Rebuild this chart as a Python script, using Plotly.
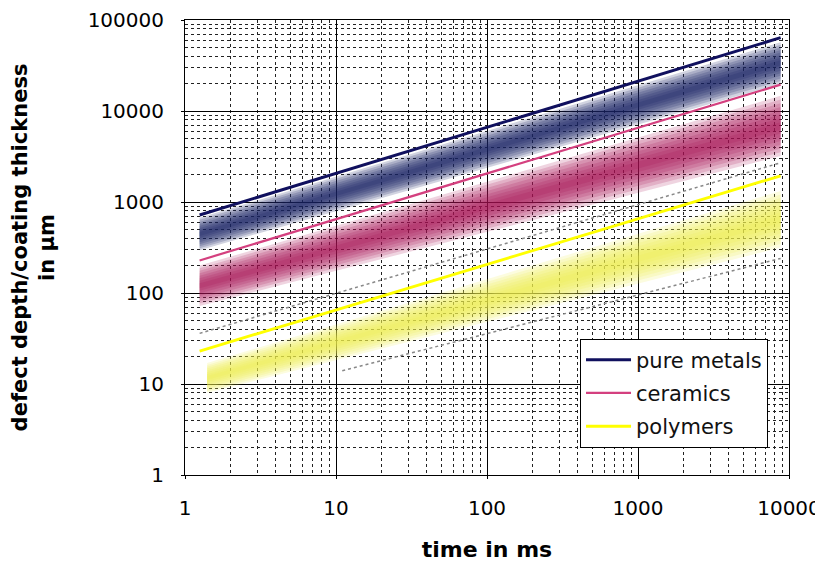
import plotly.graph_objects as go

# ---- data ----
x_span = [1.25, 8800]                     # time in ms, start/end of each series

materials = ["pure metals", "ceramics", "polymers"]

# upper limit lines (µm) at start / end of x_span
metals_line = [720, 64000]
ceramics_line = [228, 19500]
polymers_line = [23, 1940]

# fuzzy bands: lower / upper edge (µm) at start / end of x_span
metals_band_lo = [295, 20000]
metals_band_hi = [670, 57000]
ceramics_band_lo = [72, 3200]
ceramics_band_hi = [200, 14700]
polymers_band_x = [1.4, 8800]
polymers_band_lo = [8, 316]
polymers_band_hi = [17, 1320]

# faint dotted guide lines
guide1_x = [1.25, 8800]
guide1_y = [36, 2700]
guide2_x = [11, 8800]
guide2_y = [14, 240]

x_tick_vals = [1, 10, 100, 1000, 10000]
x_tick_text = ["1", "10", "100", "1000", "10000"]
y_tick_vals = [1, 10, 100, 1000, 10000, 100000]
y_tick_text = ["1", "10", "100", "1000", "10000", "100000"]

FONT = "DejaVu Sans, Arial, sans-serif"

fig = go.Figure()


def add_band(xs, lo, hi, rgb, n=8, op=0.17):
    for k in range(n):
        f = 1 - k / n
        los, his = [], []
        for a, b in zip(lo, hi):
            c = (a * b) ** 0.5
            los.append(c * (a / c) ** f)
            his.append(c * (b / c) ** f)
        fig.add_trace(go.Scatter(
            x=[xs[0], xs[1], xs[1], xs[0], xs[0]],
            y=[los[0], los[1], his[1], his[0], los[0]],
            fill="toself", mode="lines", line=dict(width=0),
            fillcolor=f"rgba({rgb},{op})", hoverinfo="skip", showlegend=False))


add_band(x_span, metals_band_lo, metals_band_hi, "25,35,100", op=0.2)
add_band(x_span, ceramics_band_lo, ceramics_band_hi, "165,15,85", op=0.18)
add_band(polymers_band_x, polymers_band_lo, polymers_band_hi, "240,240,80", op=0.18)

for gx, gy in [(guide1_x, guide1_y), (guide2_x, guide2_y)]:
    fig.add_trace(go.Scatter(x=gx, y=gy, mode="lines",
                             line=dict(color="#888888", width=1.5, dash="dot"),
                             hoverinfo="skip", showlegend=False))

line_data = [metals_line, ceramics_line, polymers_line]
line_colors = ["#10105e", "#d4407f", "#ffff00"]
line_widths = [3, 2.2, 2.8]
for name, yv, col, w in zip(materials, line_data, line_colors, line_widths):
    fig.add_trace(go.Scatter(x=x_span, y=yv, mode="lines", name=name,
                             legendgroup=name,
                             line=dict(color=col, width=w)))

minor_vals_x = [m * 10 ** e for e in range(0, 4) for m in range(2, 10)]
minor_vals_y = [m * 10 ** e for e in range(0, 5) for m in range(2, 10)]

axis_common = dict(
    type="log", showline=True, mirror=True, linecolor="black", linewidth=1,
    showgrid=True, gridcolor="black", gridwidth=1, automargin=False,
    tickmode="array", ticks="outside", ticklen=3, tickcolor="black",
    zeroline=False, ticklabeloverflow="allow",
    tickfont=dict(family=FONT, size=20, color="black"),
)

fig.update_xaxes(
    **axis_common, range=[0, 4],
    tickvals=x_tick_vals, ticktext=x_tick_text, ticklabelstandoff=12,
    minor=dict(tickvals=minor_vals_x, showgrid=True, gridcolor="#222222",
               griddash="dot", gridwidth=1),
    title=dict(text="<b>time in ms</b>", standoff=32,
               font=dict(family=FONT, size=22, color="black")),
)
fig.update_yaxes(
    **axis_common, range=[0, 5],
    tickvals=y_tick_vals, ticktext=y_tick_text, ticklabelstandoff=13,
    minor=dict(tickvals=minor_vals_y, showgrid=True, gridcolor="#222222",
               griddash="dot", gridwidth=1),
    title=dict(text="<b>defect depth/coating thickness<br>in µm</b>", standoff=36,
               font=dict(family=FONT, size=21, color="black")),
)

# the page body has an 8 px margin, so the figure is sized to fit the window
fig.update_layout(
    width=815, height=554,
    margin=dict(l=177, r=34, t=12, b=87),
    paper_bgcolor="white", plot_bgcolor="white",
    font=dict(family=FONT, color="black"),
    legend=dict(x=0.654, y=0.3, xanchor="left", yanchor="top",
                bgcolor="white", bordercolor="black", borderwidth=1,
                font=dict(family=FONT, size=21, color="#111111"),
                itemwidth=45, tracegroupgap=3),
    showlegend=True,
)

fig.write_html("out.html")
